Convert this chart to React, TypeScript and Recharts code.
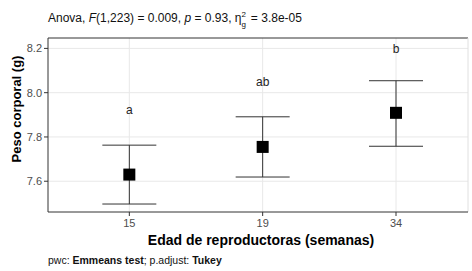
import { CartesianGrid, ComposedChart, ErrorBar, ReferenceLine, Scatter, XAxis, YAxis } from 'recharts';

const edades = ['15', '19', '34'];
const medias = [7.63, 7.755, 7.909];
const limInf = [7.497, 7.619, 7.758];
const limSup = [7.763, 7.891, 8.054];
const letras = ['a', 'ab', 'b'];
const letraY = [7.921, 8.047, 8.2];

const yTicks = [7.6, 7.8, 8.0, 8.2];
const yGrid = [7.5, 7.6, 7.7, 7.8, 7.9, 8.0, 8.1, 8.2];
const xMin = 0.39;
const xMax = 3.54;
const yMin = 7.461;
const yMax = 8.247;

const data = edades.map((e, i) => ({
  pos: i + 1,
  edad: e,
  media: medias[i],
  err: [medias[i] - limInf[i], limSup[i] - medias[i]],
  letraY: letraY[i],
  letra: letras[i],
}));

const font = '"Liberation Sans", Arial, sans-serif';

function Cuadro(props: any) {
  const { cx, cy } = props;
  return <rect x={cx - 6} y={cy - 6} width={12} height={12} fill="#000" />;
}

function Letra(props: any) {
  const { cx, cy, payload } = props;
  return (
    <text x={cx} y={cy} dy="0.35em" textAnchor="middle" fontSize={12} fill="#222" fontFamily={font}>
      {payload.letra}
    </text>
  );
}

export default function App() {
  return (
    <div style={{ position: 'absolute', left: 0, top: 0, width: 472, height: 271, background: '#fff', fontFamily: font }}>
      <div style={{ position: 'absolute', left: 48, top: 11, fontSize: 12, color: '#111', whiteSpace: 'nowrap' }}>
        Anova, <i>F</i>(1,223) = 0.009, <i>p</i> = 0.93, η
        <span style={{ position: 'relative', display: 'inline-block', width: 6, fontSize: 8 }}>
          <span style={{ position: 'absolute', left: 0, top: -12 }}>2</span>
          <span style={{ position: 'absolute', left: 0, top: -2 }}>g</span>
        </span>{' '}
        = 3.8e-05
      </div>
      <ComposedChart width={472} height={271} data={data} margin={{ top: 38, right: 4, bottom: 29, left: 0 }}>
        <CartesianGrid stroke="#e8e8e8" horizontalValues={yGrid} verticalValues={[1, 2, 3]} />
        <XAxis
          type="number"
          dataKey="pos"
          domain={[xMin, xMax]}
          ticks={[1, 2, 3]}
          tickFormatter={(v) => edades[v - 1]}
          height={30}
          tickSize={4}
          tickMargin={3}
          stroke="#333"
          tick={{ fontSize: 11, fill: '#4d4d4d', fontFamily: font }}
          allowDataOverflow
        />
        <YAxis
          type="number"
          domain={[yMin, yMax]}
          ticks={yTicks}
          tickFormatter={(v) => v.toFixed(1)}
          width={48}
          tickSize={4}
          tickMargin={2}
          stroke="#333"
          tick={{ fontSize: 11, fill: '#4d4d4d', fontFamily: font }}
          allowDataOverflow
        />
        <ReferenceLine y={yMax} stroke="#333" />
        <ReferenceLine x={xMax} stroke="#e0e0e0" />
        <Scatter dataKey="media" shape={<Cuadro />} isAnimationActive={false}>
          <ErrorBar dataKey="err" width={27} stroke="#333" strokeWidth={1} direction="y" />
        </Scatter>
        <Scatter dataKey="letraY" shape={<Letra />} isAnimationActive={false} />
      </ComposedChart>
      <div
        style={{
          position: 'absolute',
          left: 16,
          top: 109,
          transform: 'translate(-50%, -50%) rotate(-90deg)',
          fontSize: 13,
          fontWeight: 'bold',
          whiteSpace: 'nowrap',
          color: '#000',
        }}
      >
        Peso corporal (g)
      </div>
      <div
        style={{
          position: 'absolute',
          left: 261,
          top: 240,
          transform: 'translate(-50%, -50%)',
          fontSize: 14,
          fontWeight: 'bold',
          whiteSpace: 'nowrap',
          color: '#000',
        }}
      >
        Edad de reproductoras (semanas)
      </div>
      <div style={{ position: 'absolute', left: 48, top: 254, fontSize: 10.5, whiteSpace: 'nowrap', color: '#111' }}>
        pwc: <b>Emmeans test</b>; p.adjust: <b>Tukey</b>
      </div>
    </div>
  );
}
